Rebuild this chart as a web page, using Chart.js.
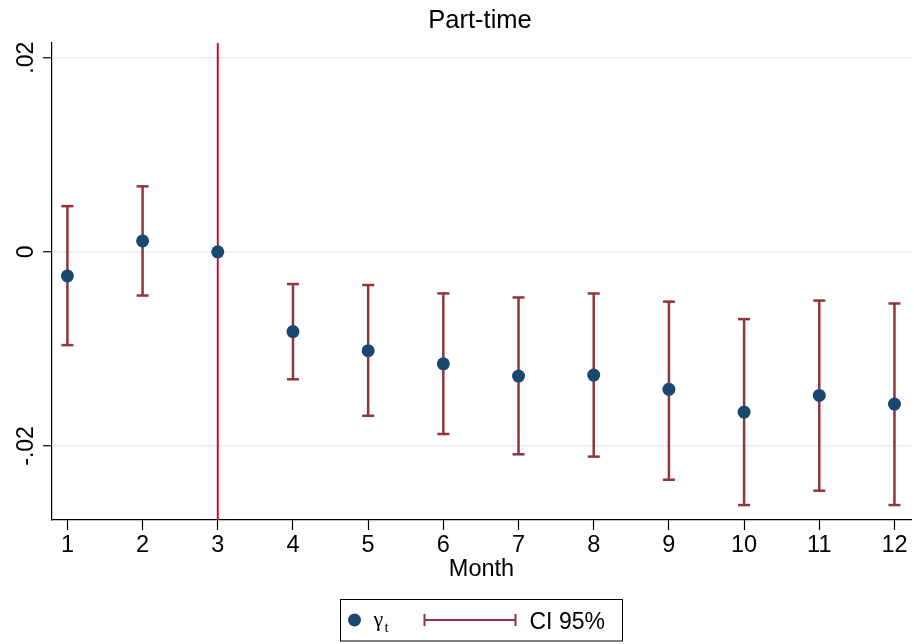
<!DOCTYPE html>
<html>
<head>
<meta charset="utf-8">
<title>Part-time</title>
<script src="https://cdn.jsdelivr.net/npm/chart.js@4/dist/chart.umd.min.js"></script>
<style>
	html, body { margin: 0; padding: 0; background: #fff; }
	canvas { display: block; }
</style>
</head>
<body>
<canvas id="cntx_parttime" width="914" height="644"></canvas>
<script>
// values
const months = [1, 2, 3, 4, 5, 6, 7, 8, 9, 10, 11, 12];
const coef = [-0.00248, 0.00113, 0, -0.00821, -0.01018, -0.01154, -0.01280, -0.01270, -0.01417, -0.01651, -0.01479, -0.01569];
const ciLow = [-0.00961, -0.00450, 0, -0.01313, -0.01689, -0.01877, -0.02086, -0.02110, -0.02348, -0.02609, -0.02461, -0.02609];
const ciHigh = [0.00471, 0.00675, 0, -0.00332, -0.00342, -0.00428, -0.00470, -0.00429, -0.00513, -0.00693, -0.00502, -0.00532];
const yTickValues = [-0.02, 0, 0.02];
const yTickLabels = ["-.02", "0", ".02"];
const refMonth = 3;

const yMin = -0.02763;
const yMax = 0.02152;

const navy = "#1a476f";
const maroon = "#90353b";
const crimson = "#c8102e";
const sans = "'Liberation Sans', Arial, sans-serif";

Chart.defaults.font.family = sans;
Chart.defaults.color = "#000";

// y tick labels are drawn turned, like Stata does
const yLabelsPlugin = {
	id: "yLabels",
	afterDraw: (chart) => {
		const ctx = chart.ctx;
		const yScale = chart.scales.y;
		ctx.save();
		ctx.font = "23px " + sans;
		ctx.fillStyle = "#000";
		ctx.textAlign = "center";
		ctx.textBaseline = "alphabetic";
		yTickValues.forEach((v, i) => {
			const py = yScale.getPixelForValue(v);
			ctx.save();
			ctx.translate(33, py);
			ctx.rotate(-Math.PI / 2);
			ctx.fillText(yTickLabels[i], 0, 0);
			ctx.restore();
		});
		ctx.restore();
	},
};

// boxed legend under the axis title
const boxLegendPlugin = {
	id: "boxLegend",
	afterDraw: (chart) => {
		const ctx = chart.ctx;
		const area = chart.chartArea;
		const cx = (area.left + area.right) / 2;
		const top = 599.5;
		const mid = 620;
		ctx.save();
		ctx.strokeStyle = "#000";
		ctx.lineWidth = 1;
		ctx.strokeRect(cx - 141, top, 282, 41.5);

		ctx.fillStyle = navy;
		ctx.beginPath();
		ctx.arc(cx - 127, mid, 6.5, 0, Math.PI * 2);
		ctx.fill();

		ctx.fillStyle = "#000";
		ctx.textBaseline = "alphabetic";
		ctx.textAlign = "left";
		ctx.font = "22px 'Liberation Serif', serif";
		ctx.fillText("γ", cx - 108, 626);
		ctx.font = "15px 'Liberation Serif', serif";
		ctx.fillText("t", cx - 97, 632);

		ctx.strokeStyle = maroon;
		ctx.lineWidth = 2;
		ctx.beginPath();
		ctx.moveTo(cx - 57, mid);
		ctx.lineTo(cx + 34, mid);
		ctx.moveTo(cx - 57, mid - 6);
		ctx.lineTo(cx - 57, mid + 6);
		ctx.moveTo(cx + 34, mid - 6);
		ctx.lineTo(cx + 34, mid + 6);
		ctx.stroke();

		ctx.fillStyle = "#000";
		ctx.font = "23px " + sans;
		ctx.fillText("CI 95%", cx + 48, 629);
		ctx.restore();
	},
};

drawChart = (canvas) => {
	const pointData = months.map((m, i) => ({ x: m, y: coef[i] }));
	const ciData = months.flatMap((m, i) => [
		{ x: m, y: ciLow[i] },
		{ x: m, y: ciHigh[i] },
		{ x: m, y: null },
	]);
	const refData = [
		{ x: refMonth, y: yMin },
		{ x: refMonth, y: yMax },
	];

	const myChart = new Chart(canvas, {
		type: "scatter",
		data: {
			datasets: [
				{
					label: "γt",
					data: pointData,
					pointRadius: 6.5,
					pointHoverRadius: 6.5,
					backgroundColor: navy,
					borderColor: navy,
					borderWidth: 0,
					order: 0,
				},
				{
					label: "ref",
					data: refData,
					showLine: true,
					pointRadius: 0,
					borderColor: crimson,
					borderWidth: 2,
					order: 1,
				},
				{
					label: "CI 95%",
					data: ciData,
					showLine: true,
					spanGaps: false,
					borderColor: maroon,
					borderWidth: 2.5,
					pointStyle: "line",
					pointRadius: 6,
					pointHoverRadius: 6,
					pointBorderColor: maroon,
					pointBorderWidth: 2.5,
					order: 2,
				},
			],
		},
		options: {
			responsive: false,
			animation: false,
			events: [],
			// left padding keeps the title centred over the plot, as in the original
			layout: {
				autoPadding: false,
				padding: { left: 49, right: 3, top: 0, bottom: 60 },
			},
			plugins: {
				legend: { display: false },
				tooltip: { enabled: false },
				title: {
					display: true,
					text: "Part-time",
					color: "#000",
					font: { size: 25.5, weight: "normal" },
					padding: { top: 5.7, bottom: 6.7 },
				},
			},
			scales: {
				x: {
					type: "linear",
					min: 0.795,
					max: 12.22,
					afterBuildTicks: (scale) => {
						scale.ticks = months.map((v) => ({ value: v }));
					},
					afterFit: (scale) => {
						scale.height = 64;
						scale.paddingLeft = 0;
						scale.paddingRight = 0;
					},
					ticks: {
						autoSkip: false,
						maxRotation: 0,
						padding: 1,
						color: "#000",
						font: { size: 23.5 },
					},
					grid: {
						drawOnChartArea: false,
						drawTicks: true,
						tickLength: 10,
						tickColor: "#000",
						tickWidth: 1.2,
					},
					border: { color: "#000", width: 1.2 },
					title: {
						display: true,
						text: "Month",
						color: "#000",
						font: { size: 23.5 },
						padding: { top: 0, bottom: 0.5 },
					},
				},
				y: {
					min: yMin,
					max: yMax,
					afterBuildTicks: (scale) => {
						scale.ticks = yTickValues.map((v) => ({ value: v }));
					},
					afterFit: (scale) => {
						scale.width = 3;
						scale.paddingTop = 0;
						scale.paddingBottom = 0;
					},
					ticks: { display: false },
					grid: {
						color: "#e6eef1",
						lineWidth: 1.5,
						drawTicks: true,
						tickLength: 9,
						tickColor: "#000",
						tickWidth: 1.2,
					},
					border: { color: "#000", width: 1.2 },
				},
			},
		},
		plugins: [yLabelsPlugin, boxLegendPlugin],
	});
};

drawChart(document.querySelector("#cntx_parttime"));
</script>
</body>
</html>
